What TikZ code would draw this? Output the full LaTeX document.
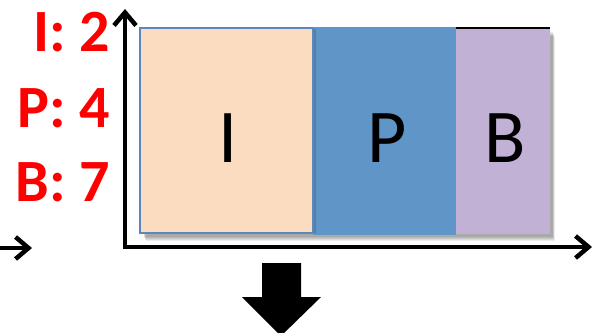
\documentclass[tikz,border=0pt]{standalone}
\usepackage{fontspec}
\setmainfont{Carlito}
\usetikzlibrary{arrows.meta}
\definecolor{peach}{HTML}{FBDCC1}
\definecolor{pblue}{HTML}{6095C8}
\definecolor{lilac}{HTML}{C1B1D4}
\definecolor{edgeblue}{HTML}{5A88BE}
\definecolor{countred}{HTML}{FF0000}
\tikzset{
  axis/.style={line width=4.5pt, -{Straight Barb[length=13pt,width=22pt,line width=4.5pt]}},
  bigletter/.style={font=\fontsize{76}{76}\selectfont, inner sep=0pt},
  count/.style={font=\bfseries\fontsize{60}{60}\selectfont, text=countred, inner sep=0pt, anchor=east},
  soft/.style={fill=black, opacity=0.08},
}
\begin{document}
\begin{tikzpicture}[x=1pt,y=-1pt]
\useasboundingbox (0,0) rectangle (593,332);
% soft shadow under the frames
\foreach \d in {1,2,3,4,5}{
  \fill[soft] (143+\d*0.6,31+\d) rectangle (552+\d*0.6,236+\d);
}
% the three frames
\fill[pblue] (313,27) rectangle (456,235);
\fill[lilac] (456,28) rectangle (550,234);
\draw[black, line width=1.2pt] (456,28) -- (550,28);
\fill[black, opacity=0.15] (313,29) rectangle (316,233);
\filldraw[fill=peach, draw=edgeblue, line width=1.2pt] (140,28) rectangle (313,233);
\node[bigletter] (lI) at (228,138) {I};
\node[bigletter] (lP) at (387,138) {P};
\node[bigletter] (lB) at (505,138) {B};
% axes
\coordinate (ytop) at (125,9);
\coordinate (xend) at (592,247);
\coordinate (lstart) at (0,248);
\coordinate (lend) at (32,248);
\draw[axis, line cap=butt] (125,249) -- (ytop);
\draw[axis] (123,247) -- (xend);
\draw[axis] (lstart) -- (lend);
% counts per frame type
\node[count] (cI) at (110,32) {I: 2};
\node[count] (cP) at (110,108) {P: 4};
\node[count] (cB) at (110,182) {B: 7};
% block arrow pointing down
\fill[black] (262,263) -- (301,263) -- (301,297) -- (321,297) -- (281,336) -- (242,297) -- (262,297) -- cycle;
\end{tikzpicture}
\end{document}
